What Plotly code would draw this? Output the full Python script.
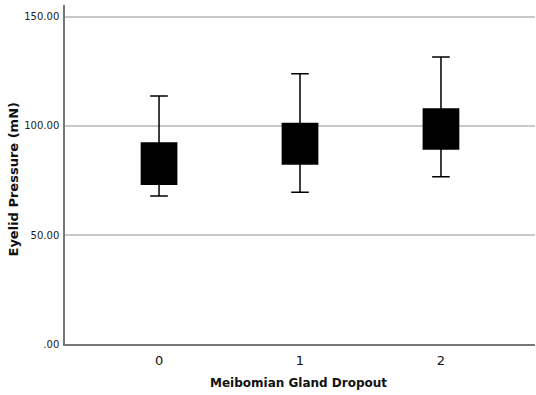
import plotly.graph_objects as go

categories = ["0", "1", "2"]
lower_whisker = [67.9, 69.6, 76.7]
q1_vals = [73.3, 82.6, 89.4]
median_vals = [82.0, 91.0, 98.0]
q3_vals = [92.2, 101.2, 107.8]
upper_whisker = [113.8, 124.0, 131.7]
y_tick_vals = [0, 50, 100, 150]
y_tick_text = [".00", "50.00", "100.00", "150.00"]
x_title = "Meibomian Gland Dropout"
y_title = "Eyelid Pressure (mN)"

fig = go.Figure()
fig.add_trace(go.Box(
    x=categories,
    q1=q1_vals, median=median_vals, q3=q3_vals,
    lowerfence=lower_whisker, upperfence=upper_whisker,
    fillcolor="black",
    line=dict(color="black", width=1.5),
    whiskerwidth=0.5,
    width=0.25,
    boxpoints=False,
    showlegend=False,
    hoverinfo="skip",
))

fig.update_layout(
    width=536, height=395,
    margin=dict(l=65, r=1, t=5, b=51),
    paper_bgcolor="white", plot_bgcolor="white",
    font=dict(family="DejaVu Sans", color="#222"),
    xaxis=dict(
        type="category",
        range=[-0.667, 2.667],
        showline=True, linecolor="#777", linewidth=1.5,
        showgrid=False, ticks="",
        tickfont=dict(size=13, color="#111"),
        ticklabelstandoff=4,
        automargin=False,
        mirror=False, zeroline=False,
    ),
    yaxis=dict(
        range=[0, 155.5],
        tickvals=y_tick_vals, ticktext=y_tick_text,
        showline=True, linecolor="#777", linewidth=1.5,
        showgrid=True, gridcolor="#c8c8c8", gridwidth=1.5,
        ticks="", zeroline=False,
        tickfont=dict(size=10, color="#222"),
        ticklabelstandoff=2,
        automargin=False,
    ),
    annotations=[
        dict(text="<b>" + x_title + "</b>", xref="paper", yref="paper",
             x=0.5, y=0, xanchor="center", yanchor="middle", yshift=-39, xshift=-2,
             showarrow=False, font=dict(size=12, color="#111")),
        dict(text="<b>" + y_title + "</b>", xref="paper", yref="paper",
             x=0, y=0.5, xanchor="center", yanchor="middle", xshift=-52, yshift=-5,
             textangle=-90, showarrow=False, font=dict(size=13, color="#111")),
    ],
)

fig.write_html("out.html", config={"displayModeBar": False},
               post_script="document.body.style.margin='0';document.body.style.overflow='hidden';")
